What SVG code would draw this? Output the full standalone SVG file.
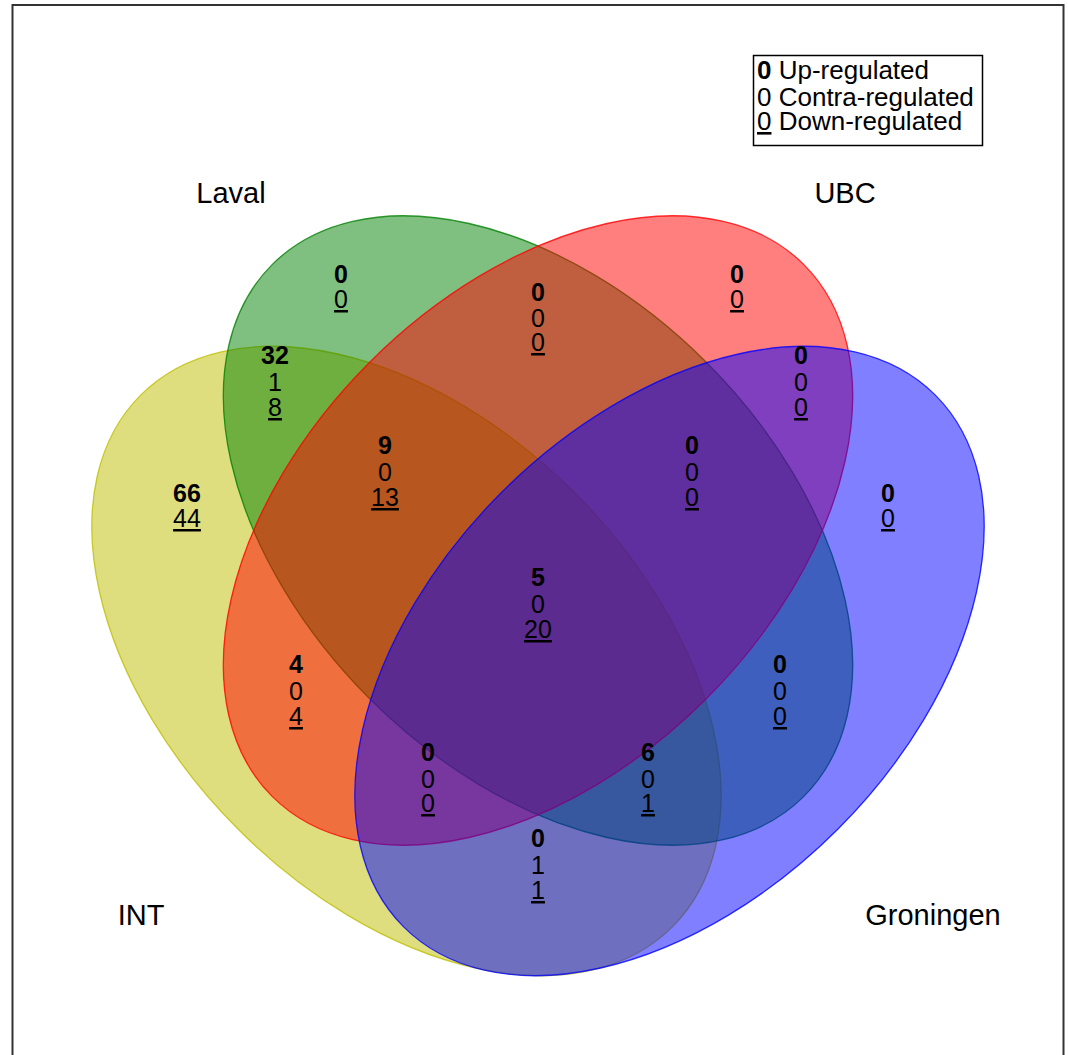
<svg xmlns="http://www.w3.org/2000/svg" width="1068" height="1055" viewBox="0 0 1068 1055">
<style>
.t{font-family:"Liberation Sans",Arial,sans-serif;font-size:25px;fill:#000;text-anchor:middle}
.b{font-weight:bold}
.u{text-decoration:underline}
.lab{font-family:"Liberation Sans",Arial,sans-serif;font-size:29px;fill:#000;text-anchor:middle}
.leg{font-family:"Liberation Sans",Arial,sans-serif;font-size:26px;fill:#000}
.e{fill-opacity:0.5;stroke-width:1.3;stroke-opacity:0.8}
</style>
<rect x="0" y="0" width="1068" height="1055" fill="#fff"/>
<rect x="12.5" y="5" width="1051" height="1070" fill="none" stroke="#333" stroke-width="2"/>
<g id="sets">
<ellipse id="INT" class="e" cx="406.5" cy="661" rx="376" ry="238" transform="rotate(45 406.5 661)" fill="#bebe00" stroke="#bebe00"/>
<ellipse id="Laval" class="e" cx="538" cy="530.5" rx="376" ry="238" transform="rotate(45 538 530.5)" fill="#008000" stroke="#008000"/>
<ellipse id="UBC" class="e" cx="538" cy="530.5" rx="376" ry="238" transform="rotate(-45 538 530.5)" fill="#ff0000" stroke="#ff0000"/>
<ellipse id="Groningen" class="e" cx="669.5" cy="661" rx="376" ry="238" transform="rotate(-45 669.5 661)" fill="#0000ff" stroke="#0000ff"/>
</g>
<g id="connectors"></g>
<g id="set-labels">
<text class="lab" x="231" y="203">Laval</text>
<text class="lab" x="845" y="203">UBC</text>
<text class="lab" x="141" y="925">INT</text>
<text class="lab" x="933" y="925">Groningen</text>
</g>
<g id="counts">
<g id="r-laval"><text class="t b" x="341" y="283">0</text><text class="t u" x="341" y="308">0</text></g>
<g id="r-ubc"><text class="t b" x="737" y="283">0</text><text class="t u" x="737" y="308">0</text></g>
<g id="r-laval-ubc"><text class="t b" x="538" y="301">0</text><text class="t" x="538" y="327">0</text><text class="t u" x="538" y="351">0</text></g>
<g id="r-int-laval"><text class="t b" x="275" y="364">32</text><text class="t" x="275" y="391">1</text><text class="t u" x="275" y="416">8</text></g>
<g id="r-ubc-gro"><text class="t b" x="801" y="364">0</text><text class="t" x="801" y="391">0</text><text class="t u" x="801" y="416">0</text></g>
<g id="r-int"><text class="t b" x="187" y="502">66</text><text class="t u" x="187" y="527">44</text></g>
<g id="r-gro"><text class="t b" x="888" y="502">0</text><text class="t u" x="888" y="527">0</text></g>
<g id="r-int-laval-ubc"><text class="t b" x="385" y="454">9</text><text class="t" x="385" y="481">0</text><text class="t u" x="385" y="506">13</text></g>
<g id="r-laval-ubc-gro"><text class="t b" x="692" y="454">0</text><text class="t" x="692" y="481">0</text><text class="t u" x="692" y="506">0</text></g>
<g id="r-all"><text class="t b" x="538" y="586">5</text><text class="t" x="538" y="613">0</text><text class="t u" x="538" y="638">20</text></g>
<g id="r-int-ubc"><text class="t b" x="296" y="673">4</text><text class="t" x="296" y="700">0</text><text class="t u" x="296" y="725">4</text></g>
<g id="r-laval-gro"><text class="t b" x="780" y="673">0</text><text class="t" x="780" y="700">0</text><text class="t u" x="780" y="725">0</text></g>
<g id="r-int-ubc-gro"><text class="t b" x="428" y="761">0</text><text class="t" x="428" y="788">0</text><text class="t u" x="428" y="812">0</text></g>
<g id="r-int-laval-gro"><text class="t b" x="648" y="761">6</text><text class="t" x="648" y="788">0</text><text class="t u" x="648" y="812">1</text></g>
<g id="r-int-gro"><text class="t b" x="538" y="847">0</text><text class="t" x="538" y="874">1</text><text class="t u" x="538" y="899">1</text></g>
</g>
<g id="legend">
<rect x="753.5" y="55.5" width="229" height="90" fill="#fff" stroke="#000" stroke-width="1.5"/>
<text class="leg" x="757" y="79"><tspan font-weight="bold">0</tspan> Up-regulated</text>
<text class="leg" x="757" y="106">0 Contra-regulated</text>
<text class="leg" x="757" y="130"><tspan text-decoration="underline">0</tspan> Down-regulated</text>
</g>
</svg>
